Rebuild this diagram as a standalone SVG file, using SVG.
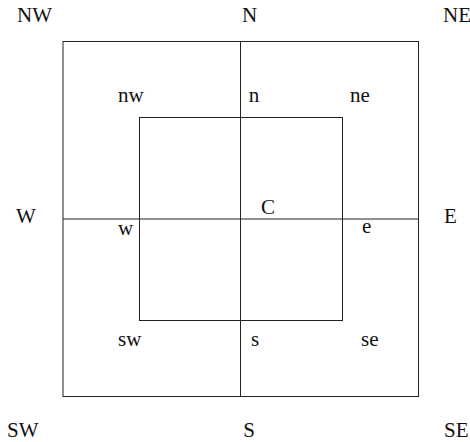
<svg xmlns="http://www.w3.org/2000/svg" width="470" height="442" viewBox="0 0 470 442">
<style>
.ln{fill:none;stroke:#222;stroke-width:1}
text{font-family:"Liberation Serif","Times New Roman",serif;font-size:21px;fill:#111}
.m{text-anchor:middle}
</style>
<rect width="470" height="442" fill="#fff"/>
<g id="connectors">
<rect class="ln" x="63" y="41.5" width="355.5" height="355"/>
<rect class="ln" x="139.5" y="117.5" width="203" height="203"/>
<line class="ln" x1="240.5" y1="41.5" x2="240.5" y2="396.5"/>
<line class="ln" x1="63" y1="219" x2="418.5" y2="219"/>
</g>
<g id="outer-labels">
<text id="NW" x="17" y="22">NW</text>
<text id="N" class="m" x="249.5" y="22">N</text>
<text id="NE" x="443" y="22">NE</text>
<text id="W" x="16" y="223">W</text>
<text id="E" x="444" y="223">E</text>
<text id="SW" x="7" y="437">SW</text>
<text id="S" class="m" x="249" y="437">S</text>
<text id="SE" x="444" y="437">SE</text>
</g>
<g id="inner-labels">
<text id="nw" x="118" y="102">nw</text>
<text id="n" class="m" x="254" y="102">n</text>
<text id="ne" x="350" y="102">ne</text>
<text id="C" x="261" y="214">C</text>
<text id="w" x="118" y="235">w</text>
<text id="e" x="362" y="233">e</text>
<text id="sw" x="118" y="346">sw</text>
<text id="s" class="m" x="255" y="346">s</text>
<text id="se" x="361" y="346">se</text>
</g>
</svg>
